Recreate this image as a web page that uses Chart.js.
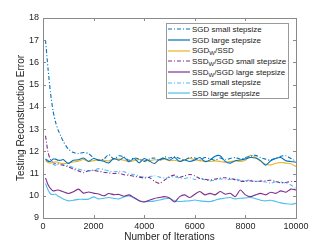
<!DOCTYPE html>
<html>
<head>
<meta charset="utf-8">
<script src="https://cdn.jsdelivr.net/npm/chart.js@4.4.1/dist/chart.umd.min.js"></script>
<style>
  body { margin: 0; background: #fff; }
  #wrap { position: relative; width: 327px; height: 245px; }
  #legend {
    position: absolute; left: 166px; top: 23px; width: 123px; height: 76px;
    background: #fff; border: 1px solid #9a9a9a; box-sizing: border-box;
    font-family: "Liberation Sans", Arial, sans-serif; font-size: 8px; color: #1a1a1a;
  }
  #legend .row { display: flex; align-items: center; height: 10.7px; white-space: nowrap; }
  #legend svg { margin-left: 1px; margin-right: 2px; flex: none; }
  #legend sub { font-size: 6px; vertical-align: -2px; line-height: 0; }
</style>
</head>
<body>
<div id="wrap">
  <canvas id="chart" width="327" height="245"></canvas>
  <div id="legend"></div>
</div>
<script>
// iterations (x values)
const iterations = [100, 200, 300, 400, 500, 600, 700, 800,
  1000, 1200, 1400, 1600, 1800, 2000, 2200, 2400, 2600, 2800,
  3000, 3200, 3400, 3600, 3800, 4000, 4200, 4400, 4600, 4800,
  5000, 5200, 5400, 5600, 5800, 6000, 6200, 6400, 6600, 6800,
  7000, 7200, 7400, 7600, 7800, 8000, 8200, 8400, 8600, 8800,
  9000, 9200, 9400, 9600, 9800, 10000];

const sgdSmall = [17.0, 15.7, 14.6, 13.8, 13.3, 12.95, 12.7, 12.45,
  12.1, 11.95, 11.9, 11.95, 11.9, 11.7, 11.6, 11.65, 11.85, 11.65,
  11.8, 11.75, 11.6, 11.7, 11.65, 11.55, 11.65, 11.7, 11.6, 11.75,
  11.7, 11.76, 11.68, 11.62, 11.72, 11.7, 11.62, 11.72, 11.66, 11.6,
  11.7, 11.62, 11.68, 11.72, 11.65, 11.72, 11.78, 11.82, 11.72, 11.65,
  11.6, 11.7, 11.78, 11.8, 11.68, 11.55];

const sgdLarge = [11.65, 11.55, 11.55, 11.65, 11.65, 11.6, 11.6, 11.63,
  11.45, 11.6, 11.62, 11.7, 11.55, 11.68, 11.6, 11.55, 11.48, 11.68,
  11.6, 11.72, 11.53, 11.68, 11.48, 11.68, 11.57, 11.45, 11.63, 11.68,
  11.6, 11.72, 11.54, 11.61, 11.54, 11.61, 11.72, 11.54, 11.61, 11.78,
  11.8, 11.55, 11.47, 11.58, 11.61, 11.66, 11.72, 11.7, 11.58, 11.38,
  11.58, 11.68, 11.72, 11.58, 11.54, 11.51];

const sgdwSsd = [11.58, 11.5, 11.47, 11.5, 11.53, 11.5, 11.46, 11.45,
  11.48, 11.52, 11.56, 11.63, 11.54, 11.58, 11.62, 11.6, 11.57, 11.66,
  11.65, 11.6, 11.53, 11.58, 11.63, 11.6, 11.57, 11.62, 11.6, 11.65,
  11.58, 11.6, 11.55, 11.62, 11.69, 11.62, 11.58, 11.56, 11.54, 11.57,
  11.55, 11.51, 11.54, 11.57, 11.55, 11.6, 11.82, 11.74, 11.55, 11.42,
  11.39, 11.46, 11.5, 11.47, 11.44, 11.32];

const ssdwSgdSmall = [12.7, 11.95, 11.62, 11.5, 11.45, 11.42, 11.4, 11.37,
  11.3, 11.2, 11.12, 11.04, 11.13, 11.15, 11.1, 11.06, 11.03, 11.0,
  11.02, 10.95, 10.92, 10.88, 10.84, 10.8, 10.82, 10.66, 10.56, 10.7,
  10.86, 10.93, 10.83, 10.9, 10.96, 10.9, 10.78, 10.74, 10.71, 10.75,
  10.8, 10.81, 10.78, 10.72, 10.66, 10.65, 10.67, 10.64, 10.66, 10.68,
  10.7, 10.65, 10.58, 10.6, 10.64, 10.64];

const ssdwSgdLarge = [10.8, 10.5, 10.32, 10.22, 10.24, 10.26, 10.22, 10.18,
  10.1, 10.18, 10.3, 10.12, 10.17, 10.12, 10.08, 10.0, 10.1, 10.05,
  10.06, 9.98, 10.04, 9.92, 9.78, 9.72, 9.8, 9.88, 9.92, 9.96,
  9.9, 9.72, 9.96, 10.04, 9.92, 10.07, 10.19, 10.04, 10.11, 10.04,
  10.19, 10.07, 10.11, 9.96, 10.26, 10.04, 9.96, 10.04, 10.11, 10.04,
  10.16, 10.11, 10.22, 10.16, 10.3, 10.26];

const ssdSmall = [11.65, 11.6, 11.55, 11.42, 11.38, 11.45, 11.45, 11.4,
  11.36, 11.27, 11.2, 11.15, 11.12, 11.15, 11.22, 11.18, 11.12, 11.08,
  11.1, 11.08, 10.98, 10.96, 10.88, 10.84, 10.86, 10.9, 10.84, 10.8,
  10.82, 10.86, 10.8, 10.78, 10.82, 10.73, 10.79, 10.72, 10.67, 10.71,
  10.76, 10.72, 10.74, 10.76, 10.7, 10.68, 10.71, 10.65, 10.66, 10.62,
  10.57, 10.63, 10.62, 10.56, 10.48, 10.32];

const ssdLarge = [10.55, 10.26, 10.08, 10.06, 10.07, 9.98, 9.92, 9.85,
  9.77, 9.8, 9.84, 9.84, 9.85, 9.95, 9.86, 9.89, 9.92, 9.88,
  9.86, 9.95, 9.99, 9.9, 9.78, 9.74, 9.74, 9.76, 9.81, 9.86,
  9.88, 9.78, 9.74, 9.76, 9.77, 9.81, 9.77, 9.75, 9.74, 9.8,
  9.86, 9.9, 9.92, 9.86, 9.89, 9.9, 9.92, 9.87, 9.8, 9.77,
  9.8, 9.74, 9.68, 9.64, 9.62, 9.66];

const xTicks = [0, 2000, 4000, 6000, 8000, 10000];
const yTicks = [9, 10, 11, 12, 13, 14, 15, 16, 17, 18];

const seriesNames = ['SGD small stepsize', 'SGD large stepsize', 'SGD<sub>W</sub>/SSD',
  'SSD<sub>W</sub>/SGD small stepsize', 'SSD<sub>W</sub>/SGD large stepsize',
  'SSD small stepsize', 'SSD large stepsize'];
const seriesValues = [sgdSmall, sgdLarge, sgdwSsd, ssdwSgdSmall, ssdwSgdLarge, ssdSmall, ssdLarge];
const seriesColors = ['#0072BD', '#0072BD', '#EDB120', '#7E2F8E', '#7E2F8E', '#4DBEEE', '#4DBEEE'];
const seriesDashed = [true, false, false, true, false, true, false];

const FONT = '"Liberation Sans", Arial, sans-serif';
const dashDot = [4, 2, 1, 2];

// box + inward ticks, matlab style
const boxPlugin = {
  id: 'box',
  afterDatasetsDraw(chart) {
    const ctx = chart.ctx;
    const a = chart.chartArea;
    const xs = chart.scales.x, ys = chart.scales.y;
    ctx.save();
    ctx.strokeStyle = '#8a8a8a';
    ctx.lineWidth = 1;
    ctx.beginPath();
    xTicks.forEach(function (v) {
      const px = Math.round(xs.getPixelForValue(v)) + 0.5;
      ctx.moveTo(px, a.bottom); ctx.lineTo(px, a.bottom - 3);
      ctx.moveTo(px, a.top); ctx.lineTo(px, a.top + 3);
    });
    yTicks.forEach(function (v) {
      const py = Math.round(ys.getPixelForValue(v)) + 0.5;
      ctx.moveTo(a.left, py); ctx.lineTo(a.left + 3, py);
      ctx.moveTo(a.right, py); ctx.lineTo(a.right - 3, py);
    });
    ctx.stroke();
    ctx.strokeRect(Math.round(a.left) + 0.5, Math.round(a.top) + 0.5,
      Math.round(a.right - a.left), Math.round(a.bottom - a.top));
    ctx.restore();
  }
};

const datasets = seriesValues.map(function (vals, i) {
  return {
    label: seriesNames[i].replace(/<\/?sub>/g, ''),
    data: iterations.map(function (x, k) { return { x: x, y: vals[k] }; }),
    borderColor: seriesColors[i],
    borderWidth: 1.1,
    borderDash: seriesDashed[i] ? dashDot : [],
    pointRadius: 0,
    tension: 0.25,
    fill: false
  };
});

new Chart(document.getElementById('chart'), {
  type: 'line',
  data: { datasets: datasets },
  options: {
    responsive: false,
    animation: false,
    devicePixelRatio: 1,
    layout: { padding: { left: 0, top: 18, right: 31, bottom: 0 } },
    plugins: { legend: { display: false }, tooltip: { enabled: false } },
    scales: {
      x: {
        type: 'linear', min: 0, max: 10000,
        afterBuildTicks: function (s) { s.ticks = xTicks.map(function (v) { return { value: v }; }); },
        afterFit: function (s) { s.height = 27; },
        grid: { display: false, drawTicks: false, tickLength: 0 },
        border: { display: false },
        ticks: {
          font: { family: FONT, size: 9 }, color: '#262626', padding: 3, maxRotation: 0,
          callback: function (v) { return String(v); }
        },
        title: { display: true, text: 'Number of Iterations', font: { family: FONT, size: 10 }, color: '#262626', padding: { top: 0, bottom: 2 } }
      },
      y: {
        type: 'linear', min: 9, max: 18,
        afterBuildTicks: function (s) { s.ticks = yTicks.map(function (v) { return { value: v }; }); },
        afterFit: function (s) { s.width = 43; },
        grid: { display: false, drawTicks: false, tickLength: 0 },
        border: { display: false },
        ticks: {
          font: { family: FONT, size: 9 }, color: '#262626', padding: 4,
          callback: function (v) { return String(v); }
        },
        title: { display: true, text: 'Testing Reconstruction Error', font: { family: FONT, size: 10 }, color: '#262626', padding: { top: 15, bottom: 0 } }
      }
    }
  },
  plugins: [boxPlugin]
});

// legend with subscripts
const legend = document.getElementById('legend');
seriesNames.forEach(function (name, i) {
  const row = document.createElement('div');
  row.className = 'row';
  const dash = seriesDashed[i] ? ' stroke-dasharray="4 2 1 2"' : '';
  row.innerHTML = '<svg width="22" height="6"><line x1="0" y1="3" x2="22" y2="3" stroke="' +
    seriesColors[i] + '" stroke-width="1.2"' + dash + '/></svg><span>' + name + '</span>';
  legend.appendChild(row);
});
</script>
</body>
</html>
